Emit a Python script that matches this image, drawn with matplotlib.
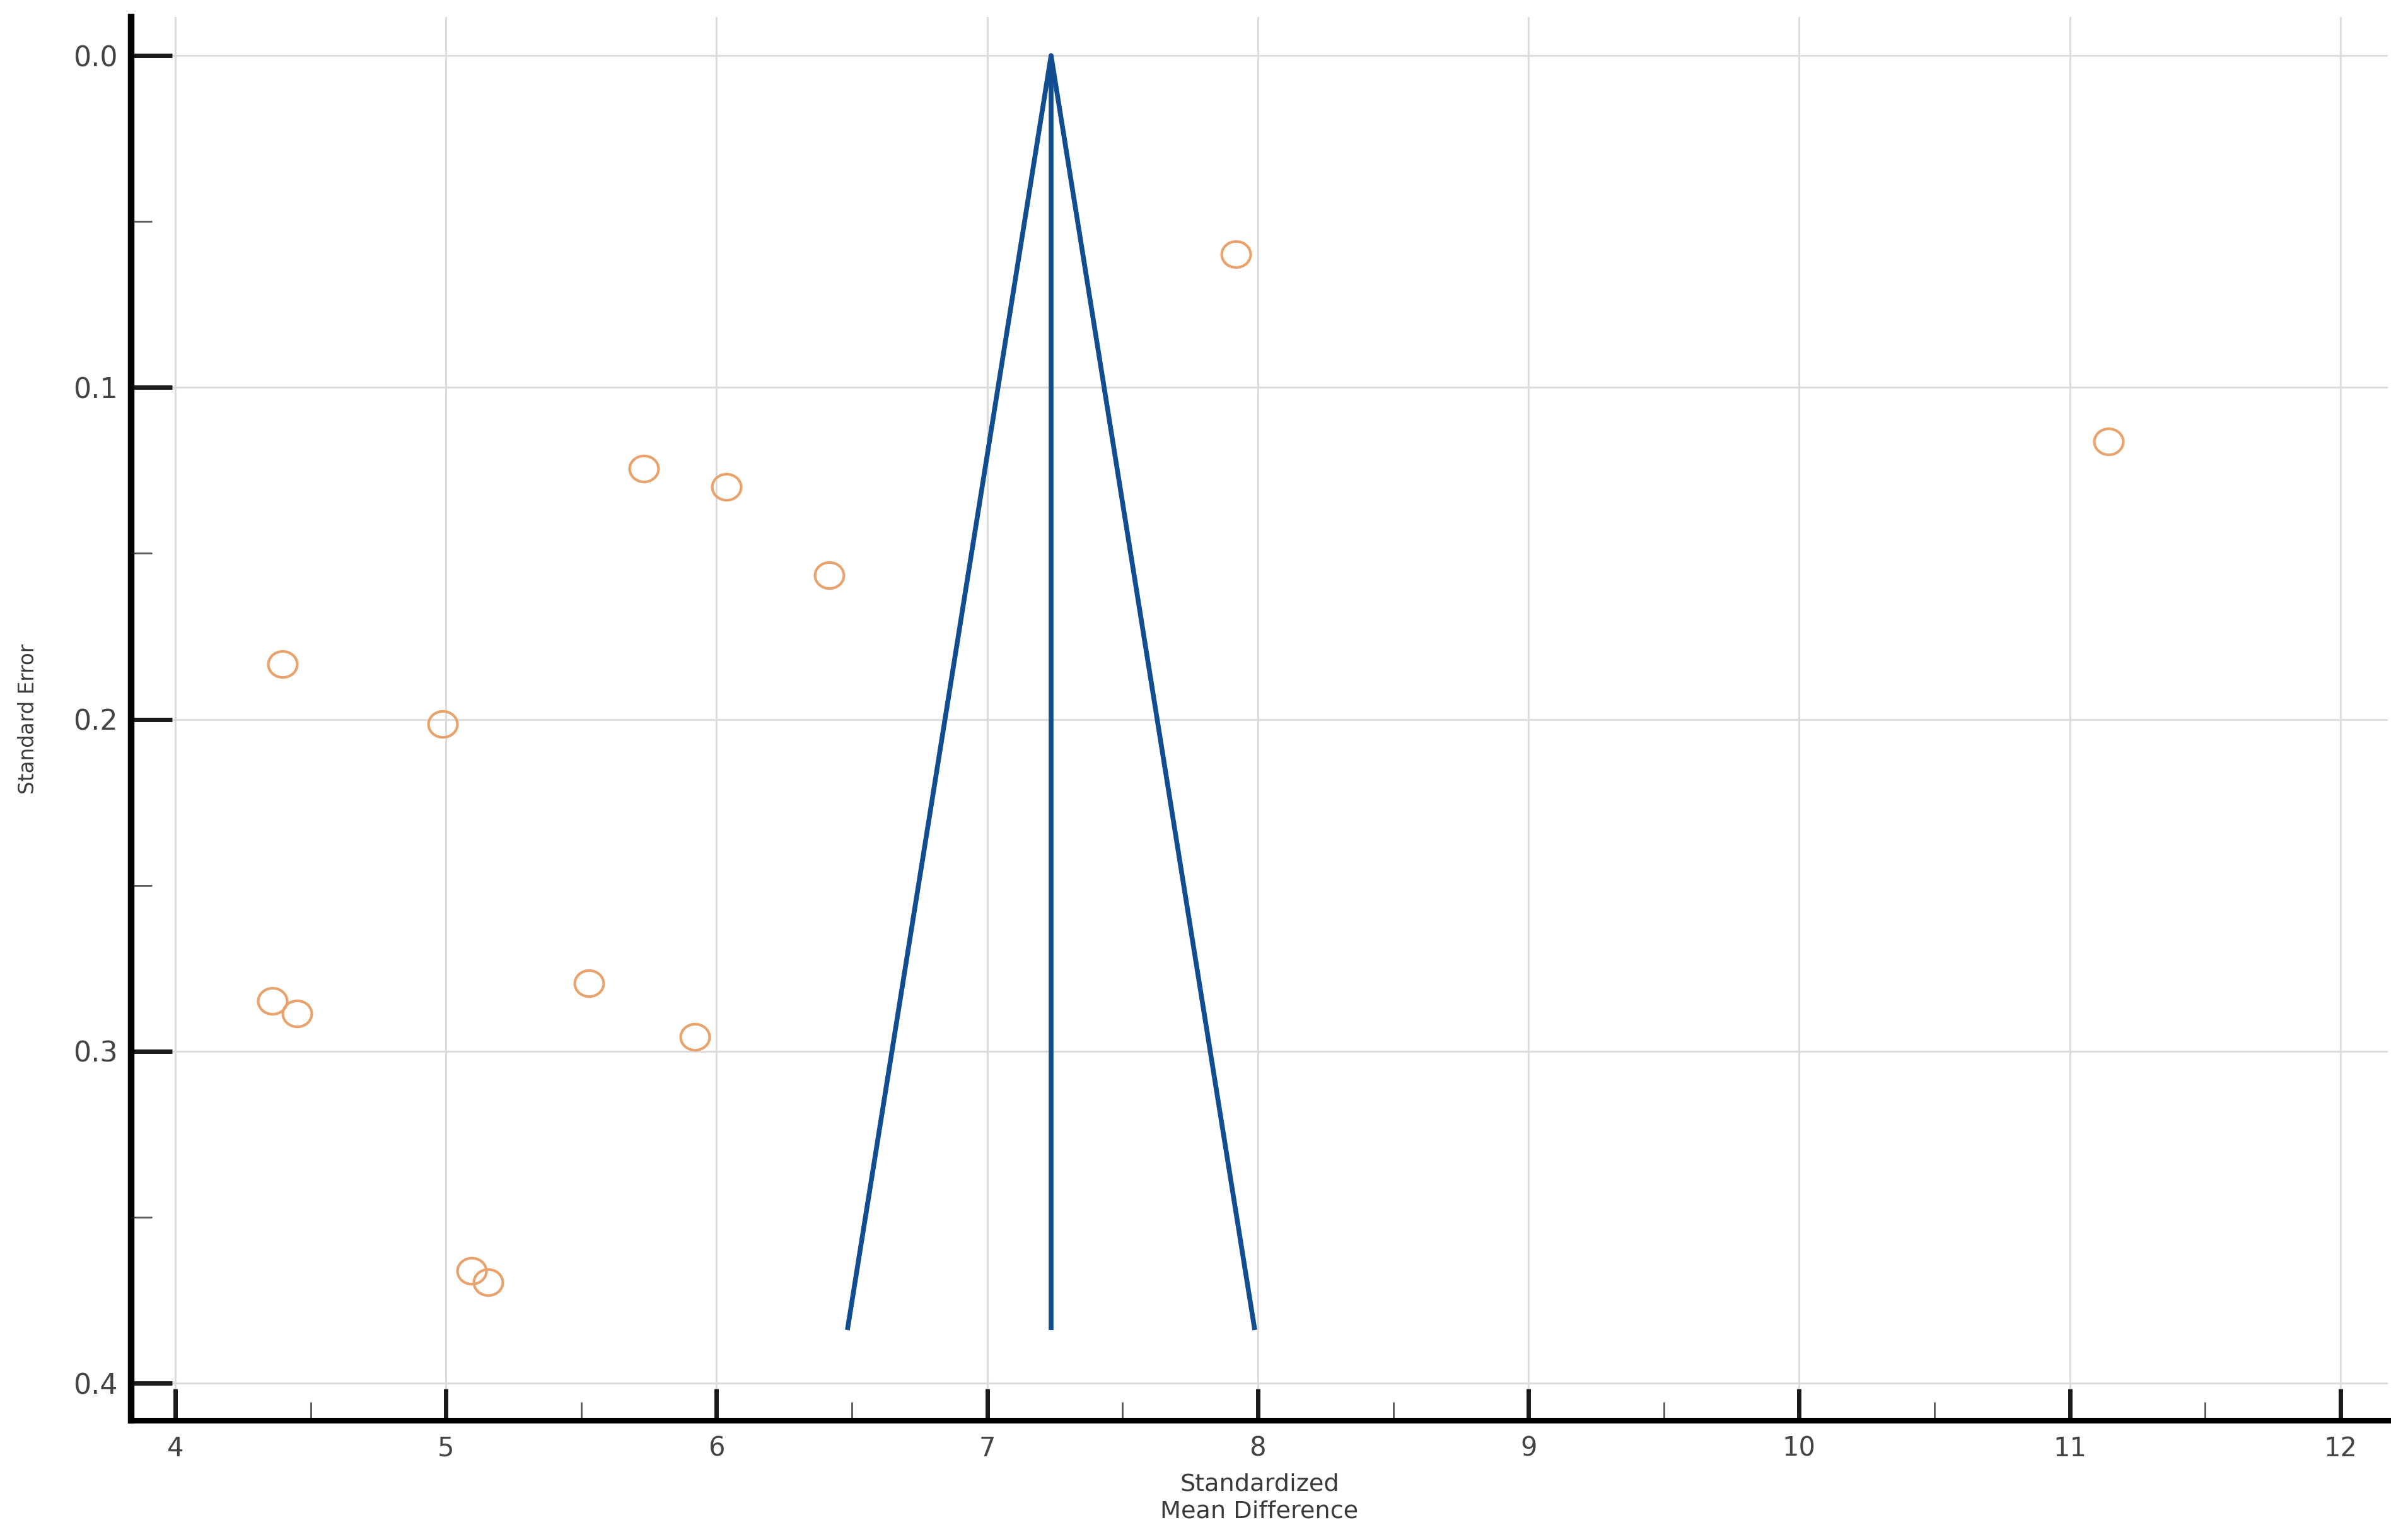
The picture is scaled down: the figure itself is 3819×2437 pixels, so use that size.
import matplotlib
matplotlib.use("Agg")
import matplotlib.pyplot as plt
import numpy as np
from matplotlib.path import Path
from matplotlib.transforms import Affine2D
from matplotlib.ticker import FixedLocator, MultipleLocator, FormatStrFormatter

# ---- data ----
smd = [7.918, 11.143, 5.731, 6.037, 6.417, 4.397, 4.987, 5.528, 4.359, 4.450, 5.920, 5.095, 5.156]
se = [0.0599, 0.1162, 0.1245, 0.1300, 0.1565, 0.1833, 0.2014, 0.2796, 0.2849, 0.2887, 0.2957, 0.3662, 0.3696]
pooled_smd = 7.236
se_max = 0.384
x_ticks = [4, 5, 6, 7, 8, 9, 10, 11, 12]
y_ticks = [0.0, 0.1, 0.2, 0.3, 0.4]
x_label = "Standardized\nMean Difference"
y_label = "Standard Error"

plt.rcParams['font.family'] = ['DejaVu Sans']

orange = '#E9A26B'
blue = '#124C91'
tick_color = '#1a1a1a'
text_color = '#444444'

fig = plt.figure(figsize=(38.19, 24.37), dpi=100)
ax = fig.add_axes([0.05446, 0.07591, 0.93716, 0.91301])

# funnel (pseudo 95% limits)
ax.plot([pooled_smd - 1.96 * se_max, pooled_smd, pooled_smd + 1.96 * se_max],
        [se_max, 0.0, se_max], color=blue, lw=5.5, solid_joinstyle='round',
        solid_capstyle='butt', zorder=2)
ax.plot([pooled_smd, pooled_smd], [0.0, se_max], color=blue, lw=5.5,
        solid_capstyle='butt', zorder=2)

# studies
ellipse = Path.unit_circle().transformed(Affine2D().scale(1.0, 0.9))
ax.plot(smd, se, linestyle='none', marker=ellipse, ms=33, mfc='none',
        mec=orange, mew=3, zorder=3)

ax.set_xlim(3.837, 12.175)
ax.set_ylim(0.4112, -0.0116)

ax.xaxis.set_major_locator(FixedLocator(x_ticks))
ax.xaxis.set_minor_locator(MultipleLocator(0.5))
ax.yaxis.set_major_locator(FixedLocator(y_ticks))
ax.yaxis.set_minor_locator(MultipleLocator(0.05))
ax.yaxis.set_major_formatter(FormatStrFormatter('%.1f'))
ax.xaxis.set_major_formatter(FormatStrFormatter('%d'))

ax.tick_params(axis='y', which='major', direction='in', length=47, width=5,
               color=tick_color, pad=15, labelsize=32, labelcolor=text_color)
ax.tick_params(axis='y', which='minor', direction='in', length=24, width=2,
               color='#555555')
ax.tick_params(axis='x', which='major', direction='in', length=36, width=5,
               color=tick_color, pad=17, labelsize=30, labelcolor=text_color)
ax.tick_params(axis='x', which='minor', direction='in', length=21, width=2,
               color='#555555')

ax.grid(True, which='major', color='#dcdcdc', lw=2.2)
ax.set_axisbelow(True)

for s in ['top', 'right']:
    ax.spines[s].set_visible(False)
ax.spines['left'].set_linewidth(7.5)
ax.spines['bottom'].set_linewidth(6.5)
for s in ['left', 'bottom']:
    ax.spines[s].set_color('#000000')
    ax.spines[s].set_capstyle('projecting')

ax.set_xlabel(x_label, fontsize=27.5, color='#3a3a3a', linespacing=1.25)
ax.xaxis.set_label_coords(0.5, -0.0553)
ax.xaxis.label.set_va('center')
ax.xaxis.label.set_ha('center')

ax.set_ylabel(y_label, fontsize=23.5, color='#3a3a3a')
ax.yaxis.set_label_coords(-0.0458, 0.5)
ax.yaxis.label.set_rotation_mode('default')
ax.yaxis.label.set_va('center')
ax.yaxis.label.set_ha('center')

fig.savefig('out.png', dpi=100)
